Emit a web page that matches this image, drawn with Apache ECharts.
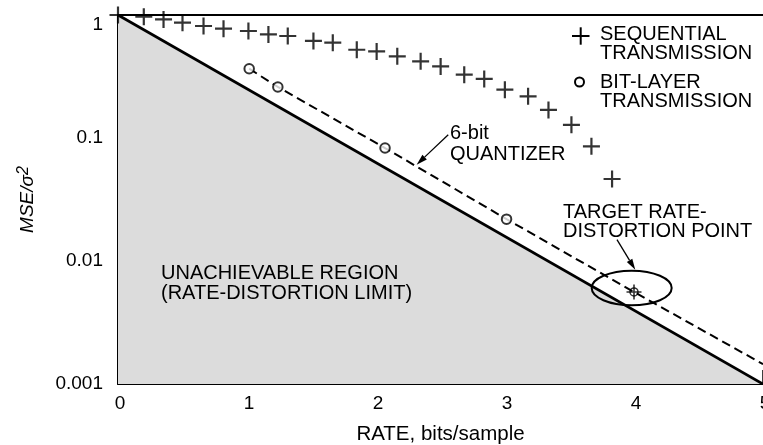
<!DOCTYPE html>
<html><head><meta charset="utf-8">
<script src="https://cdn.jsdelivr.net/npm/echarts@6/dist/echarts.min.js"></script>
<style>html,body{margin:0;padding:0;background:#fff;overflow:hidden;width:763px;height:445px}#c{width:763px;height:445px;overflow:hidden}</style>
</head><body><div id="c"></div>
<script>
// ---- data ----
const xTickLabels = ['0', '1', '2', '3', '4', '5'];
const yTickLabels = ['0.001', '0.01', '0.1', '1'];
const xTitle = 'RATE, bits/sample';

// sequential transmission (+)
const seqRate = [0, 0.2, 0.353, 0.5, 0.663, 0.818, 1.011, 1.166, 1.316, 1.515, 1.665, 1.851,
                 2.005, 2.165, 2.346, 2.501, 2.684, 2.839, 2.999, 3.179, 3.337, 3.515, 3.670, 3.830];
const seqMSE  = [1.0, 0.969, 0.921, 0.866, 0.814, 0.774, 0.741, 0.695, 0.675, 0.615, 0.596, 0.522,
                 0.506, 0.461, 0.420, 0.382, 0.327, 0.302, 0.247, 0.218, 0.169, 0.128, 0.0855, 0.0464];

// bit-layer transmission (o)
const bitRate = [1.017, 1.239, 2.07, 3.012];
const bitMSE  = [0.366, 0.260, 0.0829, 0.0219];

// 6-bit quantizer (dashed)
const quantRate = [1.017, 1.239, 2.07, 3.012, 4.0, 5.0];
const quantMSE  = [0.366, 0.260, 0.0829, 0.0219, 0.0056, 0.00145];

// rate-distortion limit (solid, shaded below)
const limitRate = [0, 5];
const limitMSE  = [1, 0.001];

// target rate-distortion point
const targetRate = [4.0];
const targetMSE  = [0.0056];

// annotation anchors (data coordinates)
const ellipseCenter = [3.982, 0.00603];
const quantArrowFrom = [2.56, 0.1064];
const quantArrowTo   = [2.315, 0.0607];
const targetArrowFrom = [3.868, 0.0149];
const targetArrowTo   = [4.010, 0.00849];

// ---- chart ----
const FONT = '"Liberation Sans", Arial, Helvetica, sans-serif';
const pair = (xs, ys) => xs.map((x, i) => [x, ys[i]]);
const chart = echarts.init(document.getElementById('c'), null, {renderer: 'canvas', width: 763, height: 445});

const PLUS = 'path://M7.4,0H9.6V7.4H17V9.6H9.6V17H7.4V9.6H0V7.4H7.4Z';
const CROSS = 'path://M6.25,0H7.75V6.25H14V7.75H7.75V14H6.25V7.75H0V6.25H6.25Z';

const option = {
  animation: false,
  backgroundColor: '#fff',
  textStyle: {fontFamily: FONT, color: '#000'},
  grid: {left: 118, right: 0, top: 15, bottom: 61, containLabel: false, outerBoundsMode: 'none'},
  xAxis: [{
    type: 'value', min: 0, max: 5, interval: 1,
    axisLine: {onZero: false, lineStyle: {color: '#000', width: 2}},
    axisTick: {inside: true, length: 14, lineStyle: {color: '#000', width: 1.5}},
    axisLabel: {fontSize: 19, color: '#000', margin: 10, fontFamily: FONT, padding: [0, 0, 0, 4],
                formatter: v => xTickLabels[Math.round(v)]},
    splitLine: {show: false},
    name: xTitle, nameLocation: 'middle', nameGap: 40,
    nameTextStyle: {fontSize: 20.5, color: '#000', fontFamily: FONT}
  }, {
    type: 'value', position: 'top', min: 0, max: 5,
    axisLine: {show: true, onZero: false, lineStyle: {color: '#000', width: 2}},
    axisTick: {show: false}, axisLabel: {show: false}, splitLine: {show: false}
  }],
  yAxis: {
    type: 'log', logBase: 10, min: 0.001, max: 1,
    axisLine: {show: true, onZero: false, lineStyle: {color: '#000', width: 2}},
    axisTick: {show: true, inside: true, length: 14, lineStyle: {color: '#000', width: 1.5}},
    minorTick: {show: false},
    axisLabel: {fontSize: 19, color: '#000', margin: 15, fontFamily: FONT,
                verticalAlignMaxLabel: 'top',
                formatter: v => yTickLabels[Math.round(Math.log10(v)) + 3]},
    splitLine: {show: false},
    name: '{a|MSE/σ}{b|2}', nameLocation: 'middle', nameGap: 78, nameRotate: 90,
    nameTextStyle: {
      rich: {
        a: {fontSize: 19, fontStyle: 'italic', fontFamily: FONT, color: '#000', lineHeight: 24},
        b: {fontSize: 16, fontStyle: 'italic', fontFamily: FONT, color: '#000', verticalAlign: 'top', lineHeight: 14}
      }
    }
  },
  series: [
    {
      type: 'line', name: 'RATE-DISTORTION LIMIT', data: pair(limitRate, limitMSE),
      symbol: 'none', z: 1,
      lineStyle: {color: '#000', width: 2.7},
      areaStyle: {color: '#dcdcdc', opacity: 1, origin: 'start'}
    },
    {
      type: 'line', name: '6-bit QUANTIZER', data: pair(quantRate, quantMSE),
      symbol: 'none', z: 2,
      lineStyle: {color: '#000', width: 2, type: [9, 5]}
    },
    {
      type: 'scatter', name: 'BIT-LAYER TRANSMISSION', data: pair(bitRate, bitMSE),
      symbol: 'circle', symbolSize: 9.5, z: 3, clip: false,
      itemStyle: {color: '#fff', borderColor: '#000', borderWidth: 2}
    },
    {
      type: 'scatter', name: 'SEQUENTIAL TRANSMISSION', data: pair(seqRate, seqMSE),
      symbol: PLUS, symbolSize: 17, z: 3, clip: false,
      itemStyle: {color: '#000'}
    },
    {
      type: 'scatter', name: 'TARGET', data: pair(targetRate, targetMSE),
      symbol: 'circle', symbolSize: 8, z: 4, clip: false,
      itemStyle: {color: 'rgba(0,0,0,0)', borderColor: '#000', borderWidth: 1.5}
    },
    {
      type: 'scatter', name: 'TARGET-CROSS', data: pair(targetRate, targetMSE),
      symbol: CROSS, symbolSize: 15, z: 4, clip: false,
      itemStyle: {color: '#000'}
    }
  ]
};
chart.setOption(option);

function px(p) { return chart.convertToPixel({xAxisIndex: 0, yAxisIndex: 0}, p); }
function arrow(from, to) {
  const a = px(from), b = px(to);
  const dx = b[0] - a[0], dy = b[1] - a[1];
  const L = Math.hypot(dx, dy), ux = dx / L, uy = dy / L, nx = -uy, ny = ux;
  const hl = 11, hw = 3.2;
  const bx = b[0] - ux * hl, by = b[1] - uy * hl;
  return [
    {type: 'line', z: 100, shape: {x1: a[0], y1: a[1], x2: bx, y2: by},
     style: {stroke: '#000', lineWidth: 1.3}},
    {type: 'polygon', z: 100, shape: {points: [[b[0], b[1]], [bx + nx * hw, by + ny * hw], [bx - nx * hw, by - ny * hw]]},
     style: {fill: '#000'}}
  ];
}
function txt(text, x, y) {
  return {type: 'text', x: x, y: y, z: 100,
          style: {text: text, fontSize: 20, fontFamily: FONT, fill: '#000',
                  align: 'left', verticalAlign: 'middle', textAlign: 'left', textVerticalAlign: 'middle'}};
}
const ec = px(ellipseCenter);
const g = [
  {type: 'ellipse', z: 100, shape: {cx: ec[0], cy: ec[1], rx: 40, ry: 17.3},
   style: {fill: 'none', stroke: '#000', lineWidth: 2}},
  ...arrow(quantArrowFrom, quantArrowTo),
  ...arrow(targetArrowFrom, targetArrowTo),
  // legend
  {type: 'line', z: 100, shape: {x1: 572, y1: 36, x2: 589.5, y2: 36}, style: {stroke: '#000', lineWidth: 2}},
  {type: 'line', z: 100, shape: {x1: 580.7, y1: 27.3, x2: 580.7, y2: 44.7}, style: {stroke: '#000', lineWidth: 2}},
  {type: 'circle', z: 100, shape: {cx: 579.5, cy: 82, r: 4.5}, style: {fill: '#fff', stroke: '#000', lineWidth: 2}},
  txt('SEQUENTIAL', 600, 34), txt('TRANSMISSION', 600, 53),
  txt('BIT-LAYER', 600, 82), txt('TRANSMISSION', 600, 101),
  txt('6-bit', 450, 133), txt('QUANTIZER', 450, 154),
  txt('TARGET RATE-', 563, 212), txt('DISTORTION POINT', 563, 231),
  txt('UNACHIEVABLE REGION', 161, 273), txt('(RATE-DISTORTION LIMIT)', 161, 293)
];
chart.setOption({graphic: {elements: g}});
</script>
</body></html>
